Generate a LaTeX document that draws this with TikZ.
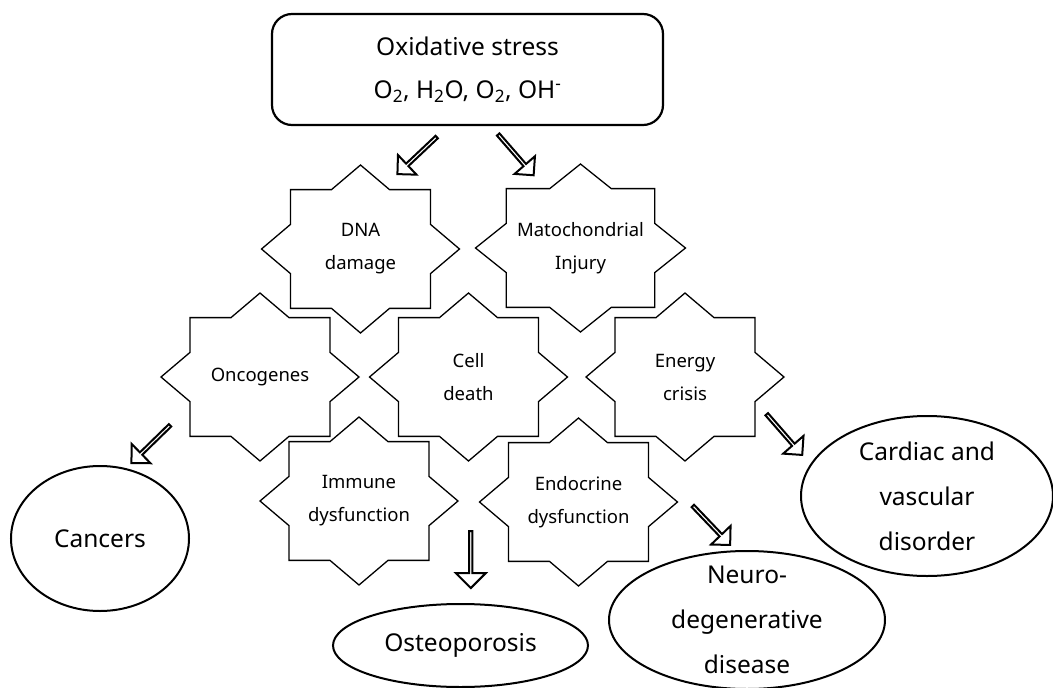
\documentclass[tikz,border=0pt]{standalone}
\usepackage{fontspec}
\setmainfont{Noto Sans}
\usetikzlibrary{shapes.geometric, shapes.arrows}

\tikzset{
  topbox/.style = {draw, line width = 2.2pt, rounded corners = 20pt, minimum width = 391pt, minimum height = 111pt, inner sep = 0pt, outer sep = 0pt, align = center, font = \fontsize{24.5}{43}\selectfont},
  illness/.style = {draw, ellipse, line width = 2pt, inner xsep = 0pt, inner ysep = -20pt, outer sep = 0pt, align = center, font = \fontsize{24.5}{45}\selectfont},
  starbox/.style = {minimum height = 168pt, inner sep = 0pt, outer sep = 0pt, align = center, font = \fontsize{18.5}{33}\selectfont},
  starline/.style = {line width = 1.3pt},
  hollowarrow/.style = {single arrow, draw, fill = white, line width = 2pt, minimum height = 54pt, minimum width = 27pt, single arrow head extend = 7pt, single arrow tip angle = 90, inner sep = 0pt, sloped, allow upside down}
}

\newcommand{\octastar}[5]{%
  \draw[starline, shift = {(#2, #3)}, xscale = #4, yscale = 84] (1, 0) -- (.707, .293) -- (.707, .707) -- (.293, .707) -- (0, 1) -- (-.293, .707) -- (-.707, .707) -- (-.707, .293) -- (-1, 0) -- (-.707, -.293) -- (-.707, -.707) -- (-.293, -.707) -- (0, -1) -- (.293, -.707) -- (.707, -.707) -- (.707, -.293) -- cycle;
  \node[starbox, minimum width = #4*2pt] (#1) at (#2, #3) {#5};
}

\begin{document}
\begin{tikzpicture} [x = 1pt, y = -1pt]
\useasboundingbox (0, 0) rectangle (1053, 688);
\node[topbox] (stress) at (467.5, 69.5) {Oxidative stress\\O\textsubscript{2}, H\textsubscript{2}O, O\textsubscript{2}, OH\textsuperscript{-}};
\octastar{dna}{360.5}{249}{99}{DNA\\damage}
\octastar{mito}{580.5}{248}{105}{Matochondrial\\Injury}
\octastar{onco}{260}{377}{99}{Oncogenes}
\octastar{death}{468.5}{377}{99}{Cell\\death}
\octastar{energy}{685}{377}{99}{Energy\\crisis}
\octastar{immune}{359}{501}{99}{Immune\\dysfunction}
\octastar{endo}{578.5}{502}{99}{Endocrine\\dysfunction}
\node[illness, minimum width = 178pt, minimum height = 145pt] (cancers) at (100, 538.5) {Cancers};
\node[illness, minimum width = 255pt, minimum height = 83pt] (osteo) at (460.5, 645.5) {Osteoporosis};
\node[illness, minimum width = 276pt, minimum height = 138pt] (neuro) at (747, 620) {Neuro-\\degenerative\\disease};
\node[illness, minimum width = 252pt, minimum height = 160pt] (cardiac) at (927, 496) {Cardiac and\\vascular\\disorder};
\path (stress.252) -- (dna.61) node[hollowarrow, pos = .75] {};
\path (stress.292) -- (mito.124) node[hollowarrow, pos = .75] {};
\path (onco.210) -- (cancers.70) node[hollowarrow, pos = .27] {};
\path (osteo.76 |- immune.east) -- (osteo.76) node[hollowarrow, pos = .56, minimum height = 57pt, minimum width = 30pt, single arrow head extend = 8.5pt] {};
\path (endo.7) -- (neuro.99) node[hollowarrow, pos = .57] {};
\path (energy.106) -- (cardiac.165) node[hollowarrow, pos = .82] {};
\end{tikzpicture}
\end{document}
